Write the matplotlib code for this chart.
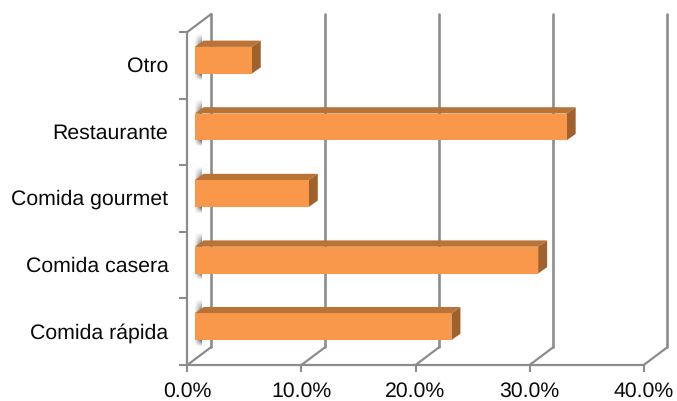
import matplotlib
matplotlib.use('Agg')
import matplotlib.pyplot as plt
import numpy as np

categories = ['Comida rápida', 'Comida casera', 'Comida gourmet', 'Restaurante', 'Otro']
values = [22.5, 30.1, 10.0, 32.6, 5.0]
ticks = [0, 10, 20, 30, 40]
tick_labels = ['0.0%', '10.0%', '20.0%', '30.0%', '40.0%']

plt.rcParams['font.family'] = ['Liberation Sans', 'DejaVu Sans']
plt.rcParams['text.hinting'] = 'none'
W, H = 677, 401
GRID = '#8c8c8c'
FRONT = '#f9974a'
TOP = '#ba7337'
SIDE = '#a0622c'
TEXT = '#0a0a0a'

fig = plt.figure(figsize=(W / 100, H / 100), dpi=100)
# axes box is the front face of the 3D frame
left, right, bottom, top = 187.3, 643.7, 365.0, 32.0
ax = fig.add_axes([left / W, 1 - bottom / H, (right - left) / W, (bottom - top) / H])
ax.set_xlim(0, 40)
ax.set_ylim(0, 5)
for s in ax.spines.values():
    s.set_visible(False)
ax.patch.set_visible(False)

px_x = 40 / (right - left)
px_y = 5 / (bottom - top)
wall_dx, wall_dy = 23.7 * px_x, 17.8 * px_y
depth_dx, depth_dy = 9 * px_x, 6.3 * px_y
inset = 7.4 * px_x
bar_h = 26.8 * px_y
bar_lift = 5 * px_y

# back wall gridlines and the floor edges running to them
for t in ticks:
    ax.plot([t + wall_dx, t + wall_dx], [wall_dy, 5 + wall_dy], color=GRID, lw=1.9, clip_on=False, zorder=1,
            solid_capstyle='round')
    ax.plot([t, t + wall_dx], [0, wall_dy], color=GRID, lw=1.6, clip_on=False, zorder=1)
ax.plot([0, wall_dx], [5, 5 + wall_dy], color=GRID, lw=1.6, clip_on=False, zorder=1)

# front axes lines and outward ticks
ax.plot([0, 0], [0, 5], color=GRID, lw=1.6, clip_on=False, zorder=2)
ax.plot([0, 40], [0, 0], color=GRID, lw=1.6, clip_on=False, zorder=2)
ax.set_xticks(ticks)
ax.set_xticklabels(tick_labels, fontsize=15.3, color=TEXT)
ax.set_yticks(np.arange(6))
ax.set_yticklabels([])
ax.tick_params(axis='x', length=5, width=1.5, color=GRID, pad=7)
ax.tick_params(axis='y', length=6, width=1.5, color=GRID, pad=0)
for i, name in enumerate(categories):
    ax.text(-1.65, i + 0.5 - 1 * px_y, name, ha='right', va='center', fontsize=15.3, color=TEXT)

# soft shadow: full strength next to the bar, fading above, below and to the left
rows = np.arange(48)
fade_y = np.interp(rows, [0, 12, 41, 47], [0, 1, 1, 0]).reshape(-1, 1)
fade_x = np.linspace(0.1, 1, 10).reshape(1, -1)
shadow_rgba = np.zeros((48, 10, 4))
shadow_rgba[..., :3] = 0.42
shadow_rgba[..., 3] = fade_y * fade_x

for i, v in enumerate(values):
    y0 = i + 0.5 - bar_h / 2 + bar_lift
    y1 = y0 + bar_h
    x0 = inset
    x1 = inset + v
    ax.imshow(shadow_rgba, extent=[x0 + 0.05, x0 + 7.5 * px_x, y0 - 7 * px_y, y1 + 14 * px_y], aspect='auto',
              zorder=3, interpolation='bilinear', clip_on=False)
    ax.barh(y0 + bar_h / 2, v, height=bar_h, left=x0, color=FRONT, linewidth=0, zorder=6)
    ax.fill([x0, x1, x1 + depth_dx, x0 + depth_dx], [y1, y1, y1 + depth_dy, y1 + depth_dy], color=TOP, lw=0, zorder=5)
    ax.fill([x1, x1 + depth_dx, x1 + depth_dx, x1], [y0, y0 + depth_dy, y1 + depth_dy, y1], color=SIDE, lw=0, zorder=5)

ax.set_xlim(0, 40)
ax.set_ylim(0, 5)
fig.savefig('out.png', dpi=100)
